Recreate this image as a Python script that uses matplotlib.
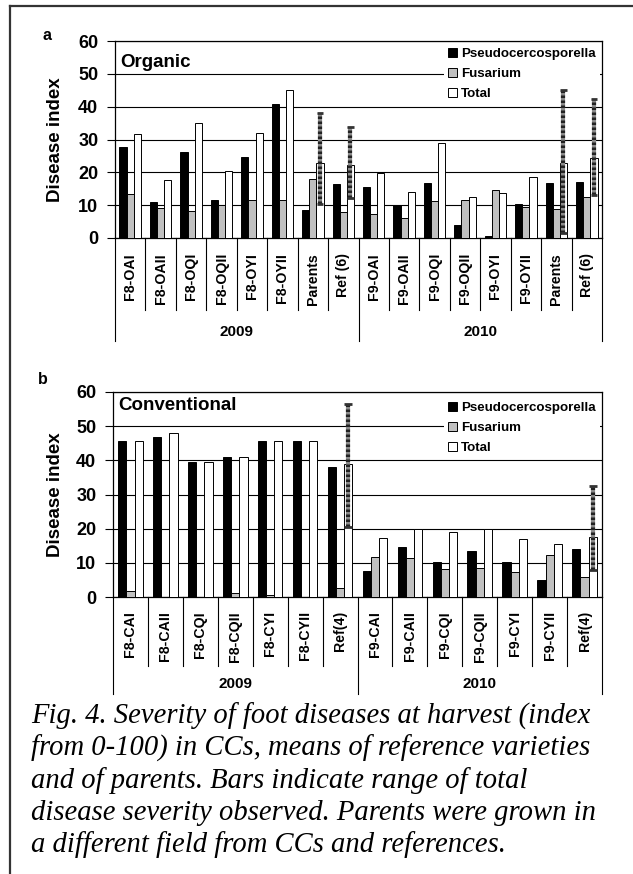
import matplotlib
matplotlib.use("Agg")
import matplotlib.pyplot as plt
from matplotlib.lines import Line2D
from matplotlib.patches import Patch
import matplotlib.transforms as mtransforms
import numpy as np

# ---------------- data ----------------
series_names = ['Pseudocercosporella', 'Fusarium', 'Total']
years = ['2009', '2010']

cats_a = ['F8-OAI', 'F8-OAII', 'F8-OQI', 'F8-OQII', 'F8-OYI', 'F8-OYII', 'Parents', 'Ref (6)',
          'F9-OAI', 'F9-OAII', 'F9-OQI', 'F9-OQII', 'F9-OYI', 'F9-OYII', 'Parents', 'Ref (6)']
pseudo_a = [27.6, 10.9, 26.3, 11.7, 24.8, 40.8, 8.6, 16.5, 15.4, 9.9, 16.7, 3.9, 0.7, 10.4, 16.7, 17.1]
fus_a = [13.4, 9.1, 8.1, 10.1, 11.6, 11.6, 17.9, 7.8, 7.2, 6.0, 11.3, 11.6, 14.6, 9.5, 8.8, 12.4]
total_a = [31.7, 17.6, 35.0, 20.4, 32.1, 45.1, 22.8, 22.2, 19.8, 14.1, 28.8, 12.4, 13.7, 18.5, 22.9, 24.5]
err_idx_a = [6, 7, 14, 15]
err_lo_a = [10.4, 12.1, 1.5, 13.1]
err_hi_a = [38.0, 33.8, 45.1, 42.2]

cats_b = ['F8-CAI', 'F8-CAII', 'F8-CQI', 'F8-CQII', 'F8-CYI', 'F8-CYII', 'Ref(4)',
          'F9-CAI', 'F9-CAII', 'F9-CQI', 'F9-CQII', 'F9-CYI', 'F9-CYII', 'Ref(4)']
pseudo_b = [45.7, 46.9, 39.5, 40.9, 45.7, 45.7, 38.1, 7.5, 14.7, 10.1, 13.5, 10.1, 5.1, 14.1]
fus_b = [1.8, 0.0, 0.0, 1.2, 0.6, 0.0, 2.6, 11.8, 11.4, 8.2, 8.5, 7.3, 12.4, 6.0]
total_b = [45.7, 48.1, 39.5, 40.9, 45.7, 45.7, 39.0, 17.4, 20.0, 19.0, 20.0, 16.9, 15.6, 17.7]
err_idx_b = [6, 13]
err_lo_b = [20.4, 7.8]
err_hi_b = [56.4, 32.6]

caption_lines = [
    "Fig. 4. Severity of foot diseases at harvest (index",
    "from 0-100) in CCs, means of reference varieties",
    "and of parents. Bars indicate range of total",
    "disease severity observed. Parents were grown in",
    "a different field from CCs and references.",
]

# ---------------- style ----------------
plt.rcParams['font.family'] = ['Liberation Sans', 'DejaVu Sans']
W, H = 633, 874
fig = plt.figure(figsize=(W / 100, H / 100), dpi=100)
colors = ['black', '#c0c0c0', 'white']


def fy(p):
    return 1 - p / H


def fx(p):
    return p / W


def panel(rect, cats, pseudo, fus, total, eidx, elo, ehi, title, title_top, letter, letter_xy,
          lab_top, sep_bot, grp_bot, year_y, ngroup, leg_top):
    l, r, t, b = rect
    ax = fig.add_axes([fx(l), fy(b), fx(r) - fx(l), fy(t) - fy(b)])
    n = len(cats)
    x = np.arange(n)
    bw = 0.235
    for k, (vals, c) in enumerate(zip([pseudo, fus, total], colors)):
        ax.bar(x + (k - 1) * bw, vals, bw, color=c, edgecolor='black', linewidth=0.7,
               zorder=3, label=series_names[k])
    # error bars on the total bar
    for i, lo, hi in zip(eidx, elo, ehi):
        xx = i + bw
        ax.vlines(xx, lo, hi, color='#8a8a8a', linewidth=3.0, zorder=4)
        ax.vlines(xx, lo, hi, color='#222222', linewidth=3.0, linestyles=[(0, (0.6, 0.6))], zorder=5)
        for yy in (lo, hi):
            ax.hlines(yy, xx - 0.11, xx + 0.11, color='#333333', linewidth=2.0, zorder=5)
    ax.set_xlim(-0.5, n - 0.5)
    ax.set_ylim(0, 60)
    ax.set_yticks(range(0, 61, 10))
    ax.yaxis.grid(True, color='black', linewidth=0.8, zorder=0)
    ax.set_axisbelow(True)
    ax.set_xticks([])
    ax.tick_params(axis='y', direction='out', length=6, width=0.8, pad=6)
    for lab in ax.get_yticklabels():
        lab.set_fontweight('bold')
        lab.set_fontsize(13)
    for s in ax.spines.values():
        s.set_linewidth(0.9)
    fig.text(fx(55), fy((t + b) / 2), 'Disease index', rotation=90, ha='center', va='center',
             fontsize=13.5, fontweight='bold')
    fig.text(fx(l + 5), fy(title_top), title, ha='left', va='top',
             fontsize=13.5, fontweight='bold', zorder=6)
    handles = [Patch(facecolor=c, edgecolor='black', linewidth=0.7) for c in colors]
    leg = ax.legend(handles, series_names, loc='upper right',
                    bbox_to_anchor=(fx(r - 2), fy(leg_top)), bbox_transform=fig.transFigure,
                    frameon=True, fancybox=False, framealpha=1, edgecolor='white',
                    prop={'weight': 'bold', 'size': 9.6}, handlelength=0.7, handleheight=0.7,
                    handletextpad=0.3, labelspacing=0.56, borderpad=0.3, borderaxespad=0.0)
    leg.set_zorder(3.5)
    leg.get_frame().set_linewidth(0)
    # category labels and separators
    trans = mtransforms.blended_transform_factory(ax.transData, fig.transFigure)
    for i, c in enumerate(cats):
        fig.text(i, fy(lab_top), c, transform=trans, rotation=90,
                 ha='center', va='top', fontsize=10.2, fontweight='bold')
    for k in range(n + 1):
        xb = k - 0.5
        bottom = grp_bot if (k % ngroup == 0) else sep_bot
        fig.add_artist(Line2D([xb, xb], [fy(b), fy(bottom)], transform=trans,
                              color='black', linewidth=0.8))
    for g, yr in enumerate(years):
        fig.text(g * ngroup + (ngroup - 1) / 2, fy(year_y), yr, transform=trans,
                 ha='center', va='center', fontsize=11, fontweight='bold')
    fig.text(fx(letter_xy[0]), fy(letter_xy[1]), letter, ha='center', va='center',
             fontsize=11.5, fontweight='bold')
    return ax


panel((115, 602, 41, 238), cats_a, pseudo_a, fus_a, total_a, err_idx_a, err_lo_a, err_hi_a,
      'Organic', 54, 'a', (47, 35), 253, 310, 341, 332, 8, 44)
panel((113, 602, 392, 597), cats_b, pseudo_b, fus_b, total_b, err_idx_b, err_lo_b, err_hi_b,
      'Conventional', 397, 'b', (43, 379), 611, 666, 694, 684, 7, 398)

# frame lines
fig.add_artist(Line2D([fx(10), fx(10)], [fy(6), 0], transform=fig.transFigure,
                      color='#333333', linewidth=1.6))
fig.add_artist(Line2D([fx(10), 1], [fy(6), fy(6)], transform=fig.transFigure,
                      color='#333333', linewidth=1.6))

# caption
base = [724, 756, 788, 820, 852]
for line, yb in zip(caption_lines, base):
    fig.text(fx(31), fy(yb), line, ha='left', va='baseline', fontsize=20.6,
             fontstyle='italic', family=['Liberation Serif', 'DejaVu Serif'])

fig.savefig('out.png', dpi=100)
